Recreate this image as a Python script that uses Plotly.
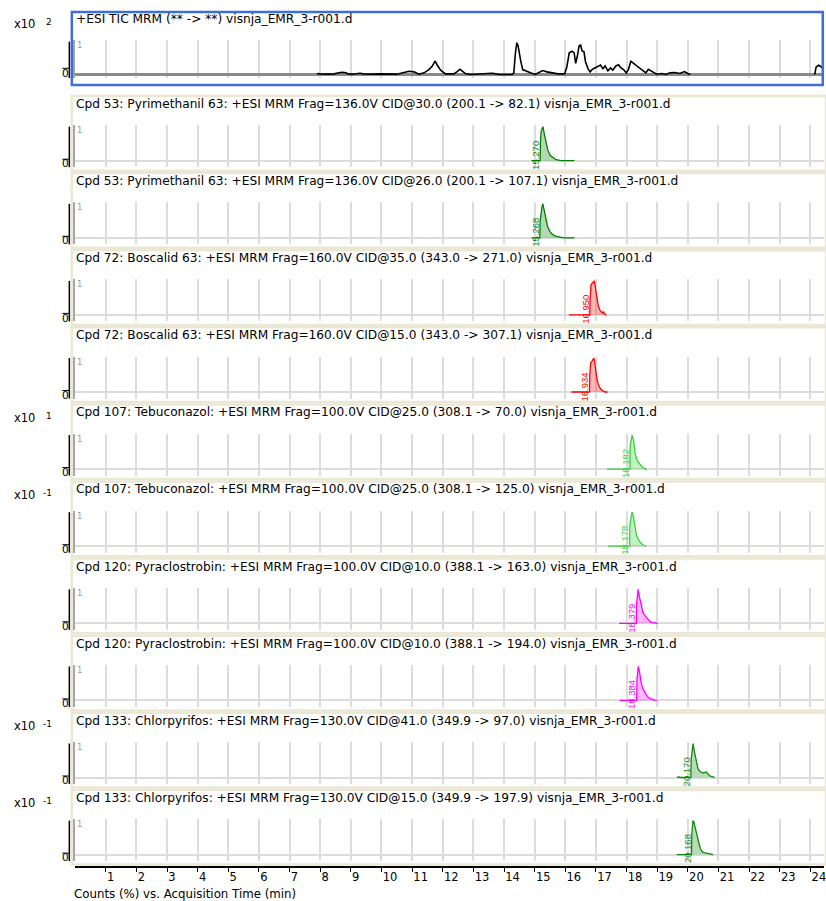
import plotly.graph_objects as go

W, H = 826, 901
FONT = "DejaVu Sans"
LABEL_FONT = "Liberation Sans"

# ---------------------------------------------------------------- data
# Total ion chromatogram, normalised counts (x10^2); None marks gaps in acquisition
tic_time = [7.90, 7.93, 7.98, 8.10, 8.30, 8.45, 8.60, 8.70, 8.80, 8.92, 9.05, 9.20, 9.30, 9.40,
            9.55, 9.75, 9.95, 10.15, 10.35, 10.50,
            10.57, 10.74, 10.90, 11.06, 11.22, 11.39, 11.55, 11.66, 11.75, 11.82, 11.93, 12.09,
            12.36, 12.47, 12.56, 12.66, 12.74, 12.91, 13.50, 13.61, 13.74, 13.83, 14.26, 14.32,
            14.37, 14.42, 14.46, 14.50, 14.55, 14.61, 14.70, 14.86, 15.02, 15.15, 15.26, 15.40,
            15.57, 15.76, 15.98, 16.05, 16.13, 16.22, 16.29, 16.34, 16.39, 16.45, 16.50, 16.55,
            16.61, 16.66, 16.74, 16.81, 16.89, 16.98, 17.06, 17.15, 17.23, 17.30, 17.39, 17.48,
            17.55, 17.65, 17.74, 17.81, 17.90, 17.99, 18.06, 18.14, 18.23, 18.32, 18.43, 18.54,
            18.63, 18.71, 18.80, 18.89, 18.98, 19.15, 19.28, 19.42, 19.58, 19.74, 19.89, 20.00,
            20.08, None,
            24.14, 24.19, 24.27, 24.36, 24.44]
tic_counts = [0.00, 0.03, 0.02, 0.01, 0.01, 0.02, 0.05, 0.07, 0.06, 0.02, 0.01, 0.02, 0.04, 0.02,
              0.01, 0.01, 0.02, 0.01, 0.01, 0.01,
              0.02, 0.06, 0.10, 0.08, 0.01, 0.05, 0.15, 0.26, 0.41, 0.29, 0.13, 0.02,
              0.02, 0.09, 0.16, 0.09, 0.03, 0.00, 0.02, 0.04, 0.02, 0.00, 0.00, 0.05,
              0.64, 0.97, 0.87, 0.64, 0.39, 0.15, 0.11, 0.05, 0.00, 0.06, 0.12, 0.08,
              0.05, 0.02, 0.02, 0.23, 0.66, 0.71, 0.66, 0.34, 0.54, 0.87, 0.90, 0.72,
              0.69, 0.39, 0.18, 0.08, 0.16, 0.21, 0.26, 0.29, 0.18, 0.26, 0.11, 0.20,
              0.13, 0.26, 0.30, 0.21, 0.15, 0.05, 0.15, 0.40, 0.34, 0.28, 0.21, 0.11,
              0.05, 0.16, 0.11, 0.05, 0.01, 0.03, 0.00, 0.05, 0.06, 0.03, 0.09, 0.03,
              0.00, None,
              0.00, 0.23, 0.28, 0.23, 0.15]

tic_title = "+ESI TIC MRM (** -> **) visnja_EMR_3-r001.d"

mrm_titles = [
    "Cpd 53: Pyrimethanil 63: +ESI MRM Frag=136.0V CID@30.0 (200.1 -> 82.1) visnja_EMR_3-r001.d",
    "Cpd 53: Pyrimethanil 63: +ESI MRM Frag=136.0V CID@26.0 (200.1 -> 107.1) visnja_EMR_3-r001.d",
    "Cpd 72: Boscalid 63: +ESI MRM Frag=160.0V CID@35.0 (343.0 -> 271.0) visnja_EMR_3-r001.d",
    "Cpd 72: Boscalid 63: +ESI MRM Frag=160.0V CID@15.0 (343.0 -> 307.1) visnja_EMR_3-r001.d",
    "Cpd 107: Tebuconazol: +ESI MRM Frag=100.0V CID@25.0 (308.1 -> 70.0) visnja_EMR_3-r001.d",
    "Cpd 107: Tebuconazol: +ESI MRM Frag=100.0V CID@25.0 (308.1 -> 125.0) visnja_EMR_3-r001.d",
    "Cpd 120: Pyraclostrobin: +ESI MRM Frag=100.0V CID@10.0 (388.1 -> 163.0) visnja_EMR_3-r001.d",
    "Cpd 120: Pyraclostrobin: +ESI MRM Frag=100.0V CID@10.0 (388.1 -> 194.0) visnja_EMR_3-r001.d",
    "Cpd 133: Chlorpyrifos: +ESI MRM Frag=130.0V CID@41.0 (349.9 -> 97.0) visnja_EMR_3-r001.d",
    "Cpd 133: Chlorpyrifos: +ESI MRM Frag=130.0V CID@15.0 (349.9 -> 197.9) visnja_EMR_3-r001.d",
]

# retention times printed beside each peak (min); each apex sits at its RT
mrm_rt_labels = ["15.270", "15.268", "16.950", "16.934", "18.182",
                 "18.178", "18.379", "18.384", "20.170", "20.168"]

# Normalised MRM transitions (time in min, counts relative to panel scale)
pyr82_time = [14.90, 15.18, 15.19, 15.21, 15.24, 15.27, 15.32, 15.38, 15.43, 15.51, 15.60, 15.70, 15.87, 16.30]
pyr82_counts = [0, 0, 0.55, 0.85, 0.93, 1.00, 0.77, 0.51, 0.31, 0.15, 0.08, 0.03, 0, 0]

pyr107_time = [14.90, 15.17, 15.18, 15.21, 15.24, 15.268, 15.31, 15.36, 15.42, 15.50, 15.58, 15.68, 15.80, 15.95, 16.30]
pyr107_counts = [0, 0, 0.50, 0.82, 0.92, 1.00, 0.82, 0.56, 0.34, 0.18, 0.10, 0.05, 0.03, 0, 0]

bos271_time = [16.12, 16.80, 16.81, 16.84, 16.88, 16.92, 16.95, 16.98, 17.01, 17.04, 17.08, 17.13, 17.18, 17.22, 17.25, 17.28, 17.33, 17.35]
bos271_counts = [0, 0, 0.45, 0.88, 0.93, 0.96, 1.00, 0.82, 0.60, 0.42, 0.26, 0.14, 0.07, 0.05, 0.10, 0.03, 0, 0]

bos307_time = [16.20, 16.79, 16.80, 16.83, 16.87, 16.91, 16.934, 16.97, 17.00, 17.04, 17.08, 17.13, 17.19, 17.25, 17.30, 17.38]
bos307_counts = [0, 0, 0.50, 0.86, 0.90, 0.95, 1.00, 0.80, 0.55, 0.35, 0.22, 0.12, 0.06, 0.03, 0, 0]

teb70_time = [17.36, 18.11, 18.12, 18.15, 18.182, 18.23, 18.28, 18.34, 18.41, 18.50, 18.60, 18.66]
teb70_counts = [0, 0, 0.70, 0.90, 1.00, 0.85, 0.46, 0.26, 0.17, 0.07, 0.01, 0]

teb125_time = [17.40, 18.10, 18.11, 18.14, 18.178, 18.22, 18.27, 18.33, 18.40, 18.48, 18.57, 18.64]
teb125_counts = [0, 0, 0.65, 0.88, 1.00, 0.88, 0.55, 0.30, 0.18, 0.08, 0.02, 0]

pyc163_time = [17.76, 18.32, 18.33, 18.36, 18.379, 18.42, 18.48, 18.53, 18.58, 18.64, 18.69, 18.74, 18.81, 18.90, 19.02]
pyc163_counts = [0, 0, 0.60, 0.92, 1.00, 0.78, 0.47, 0.34, 0.25, 0.18, 0.12, 0.08, 0.03, 0.01, 0]

pyc194_time = [17.78, 18.33, 18.34, 18.36, 18.384, 18.43, 18.48, 18.54, 18.60, 18.66, 18.72, 18.80, 18.90, 19.00]
pyc194_counts = [0, 0, 0.62, 0.90, 1.00, 0.80, 0.50, 0.33, 0.22, 0.14, 0.08, 0.04, 0.01, 0]

chl97_time = [19.64, 19.70, 19.74, 20.10, 20.11, 20.14, 20.17, 20.22, 20.28, 20.33, 20.38, 20.44, 20.49, 20.60, 20.71, 20.82, 20.88]
chl97_counts = [0, 0.02, 0, 0, 0.55, 0.85, 1.00, 0.74, 0.42, 0.26, 0.19, 0.16, 0.13, 0.16, 0.05, 0.02, 0]

chl198_time = [19.64, 20.12, 20.13, 20.15, 20.168, 20.20, 20.25, 20.31, 20.36, 20.41, 20.47, 20.57, 20.68, 20.83]
chl198_counts = [0, 0, 0.60, 0.90, 1.00, 0.95, 0.74, 0.54, 0.34, 0.18, 0.08, 0.05, 0.03, 0]

mrm_time = [pyr82_time, pyr107_time, bos271_time, bos307_time, teb70_time,
            teb125_time, pyc163_time, pyc194_time, chl97_time, chl198_time]
mrm_counts = [pyr82_counts, pyr107_counts, bos271_counts, bos307_counts, teb70_counts,
              teb125_counts, pyc163_counts, pyc194_counts, chl97_counts, chl198_counts]

# scale exponent shown as "x10^n" beside each panel ("" = none)
scale_exponents = ["2", "", "", "", "", "1", "-1", "", "", "-1", "-1"]

tick_values = [1, 2, 3, 4, 5, 6, 7, 8, 9, 10, 11, 12, 13, 14, 15, 16, 17, 18, 19, 20, 21, 22, 23, 24]
tick_labels = ["1", "2", "3", "4", "5", "6", "7", "8", "9", "10", "11", "12",
               "13", "14", "15", "16", "17", "18", "19", "20", "21", "22", "23", "24"]
x_title = "Counts (%) vs. Acquisition Time (min)"

# ---------------------------------------------------------------- styling
compound_line = {"Pyrimethanil": "#008000", "Boscalid": "#ff0000", "Tebuconazol": "#3cd03c",
                 "Pyraclostrobin": "#ff00ff", "Chlorpyrifos": "#128a12"}
compound_fill = {"Pyrimethanil": "rgba(0,128,0,0.30)", "Boscalid": "rgba(255,0,0,0.28)",
                 "Tebuconazol": "rgba(60,208,60,0.30)", "Pyraclostrobin": "rgba(255,0,255,0.28)",
                 "Chlorpyrifos": "rgba(18,138,18,0.30)"}

FRAME = "#ebe7d5"
GRID = "#dcdcdc"
TITLE_SIZE = 12.2


def px(x):
    return x / W


def py(y):
    return 1 - y / H


X_LEFT = 75.3
X_MAX = 24.445
PX_PER_MIN = (W - X_LEFT) / X_MAX

n_panels = 1 + len(mrm_titles)
geoms = []
for i in range(n_panels):
    if i == 0:
        title_y, top, zero, bottom = 19.0, 41.7, 74.5, 78.0
    else:
        title_y = 104.0 + 77.1 * (i - 1)
        top, zero, bottom = title_y + 22.7, title_y + 56.7, title_y + 63.2
    geoms.append((title_y, top, zero, bottom))

fig = go.Figure()
layout = {}
shapes = []
annotations = []

for i, (title_y, top, zero, bottom) in enumerate(geoms):
    k = "" if i == 0 else str(i + 1)
    unit = zero - top
    last = i == n_panels - 1
    xa = dict(domain=[X_LEFT / W, 1], range=[0, X_MAX], anchor="y" + k,
              tickmode="array", tickvals=tick_values, ticktext=tick_labels,
              showgrid=True, gridcolor=GRID, gridwidth=2, zeroline=False,
              showticklabels=False, ticks="", showline=False, fixedrange=True)
    if last:
        xa.update(anchor="free", position=py(866.7), showticklabels=True,
                  ticks="outside", ticklen=5, tickwidth=1, tickcolor="black",
                  showline=True, linecolor="black", linewidth=1.5,
                  ticklabelposition="outside right", ticklabeloverflow="allow",
                  tickfont=dict(family=FONT, size=11.5, color="black"))
    ya = dict(domain=[py(bottom), py(top - 1.5)],
              range=[-(bottom - zero) / unit, (zero - top + 1.5) / unit],
              anchor="x" + k, showgrid=False, zeroline=True,
              zerolinecolor="#8a8a8a" if i == 0 else GRID,
              zerolinewidth=2.5 if i == 0 else 2,
              showticklabels=False, ticks="", showline=True,
              linecolor="#a4a4a4", linewidth=2, fixedrange=True)
    layout["xaxis" + k] = xa
    layout["yaxis" + k] = ya

    # panel frame
    if i == 0:
        shapes.append(dict(type="rect", xref="paper", yref="paper",
                           x0=px(72), x1=px(824.8), y0=py(85), y1=py(12),
                           line=dict(color="#3b6fd6", width=2.5)))
    else:
        shapes.append(dict(type="rect", xref="paper", yref="paper",
                           x0=px(72), x1=px(828), y0=py(bottom + 3.5), y1=py(title_y - 8),
                           line=dict(color=FRAME, width=2.5)))

    # scale bar with 0 / 1 marks
    zero_mark = zero - 6.2 if i == 0 else zero - 1.5
    shapes.append(dict(type="line", xref="paper", yref="paper",
                       x0=px(69.5), x1=px(69.5), y0=py(top), y1=py(bottom),
                       line=dict(color="black", width=1.5)))
    shapes.append(dict(type="line", xref="paper", yref="paper",
                       x0=px(62.5), x1=px(69.5), y0=py(zero_mark), y1=py(zero_mark),
                       line=dict(color="black", width=1)))
    annotations.append(dict(text="0", xref="paper", yref="paper", x=px(66), y=py(zero_mark + 4.2),
                            xanchor="center", yanchor="middle", showarrow=False,
                            font=dict(family=FONT, size=10.5, color="black")))
    annotations.append(dict(text="1", xref="paper", yref="paper", x=px(75.5), y=py(top + 3.5),
                            xanchor="left", yanchor="middle", showarrow=False,
                            font=dict(family=FONT, size=8.5, color="#9a9a9a")))

    # panel title
    annotations.append(dict(text=tic_title if i == 0 else mrm_titles[i - 1],
                            xref="paper", yref="paper", x=px(74.5), y=py(title_y),
                            xanchor="left", yanchor="middle", showarrow=False,
                            font=dict(family=FONT, size=TITLE_SIZE, color="black")))

    # scale multiplier
    if scale_exponents[i]:
        annotations.append(dict(text="x10", xref="paper", yref="paper", x=px(12), y=py(title_y + 5.3),
                                xanchor="left", yanchor="middle", showarrow=False,
                                font=dict(family=FONT, size=11.5, color="black")))
        annotations.append(dict(text=scale_exponents[i], xref="paper", yref="paper",
                                x=px(54.5), y=py(title_y + 3.2), xanchor="right", yanchor="middle",
                                showarrow=False, font=dict(family=FONT, size=9, color="black")))

# TIC trace
fig.add_trace(go.Scatter(x=tic_time, y=tic_counts, xaxis="x", yaxis="y", mode="lines",
                         line=dict(color="black", width=1.6), connectgaps=False,
                         hoverinfo="skip", showlegend=False))

# MRM transitions
for j, (t, c) in enumerate(zip(mrm_time, mrm_counts)):
    k = str(j + 2)
    name = mrm_titles[j].split(": ")[1].split(" ")[0]
    line_col = compound_line[name]
    fig.add_trace(go.Scatter(x=t, y=c, xaxis="x" + k, yaxis="y" + k, mode="lines",
                             fill="tozeroy", fillcolor=compound_fill[name],
                             line=dict(color=line_col, width=1.3),
                             hoverinfo="skip", showlegend=False))
    # retention-time label, rotated, just left of the peak front
    apex = c.index(max(c))
    rise = max(t[n] for n in range(apex) if c[n] == 0)
    _, top, zero, _ = geoms[j + 1]
    annotations.append(dict(text=mrm_rt_labels[j], xref="x" + k, yref="y" + k,
                            x=rise - 4.5 / PX_PER_MIN, y=5.5 / (zero - top),
                            textangle=-90, xanchor="center", yanchor="middle",
                            showarrow=False,
                            font=dict(family=LABEL_FONT, size=9.5, color=line_col)))

annotations.append(dict(text=x_title, xref="paper", yref="paper", x=px(72), y=py(894),
                        xanchor="left", yanchor="middle", showarrow=False,
                        font=dict(family=FONT, size=11.8, color="black")))

fig.update_layout(**layout)
fig.update_layout(width=W, height=H, margin=dict(l=0, r=0, t=0, b=0, pad=0),
                  paper_bgcolor="white", plot_bgcolor="white", showlegend=False,
                  hovermode=False, shapes=shapes, annotations=annotations)

fig.write_html("out.html")
